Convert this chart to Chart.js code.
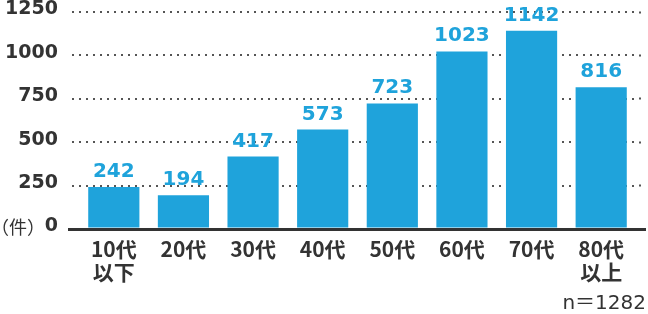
<!DOCTYPE html>
<html>
<head>
<meta charset="utf-8">
<script src="https://cdn.jsdelivr.net/npm/chart.js@4"></script>
<style>
  html, body { margin: 0; padding: 0; background: #fff; }
  #wrap { width: 648px; height: 314px; position: relative; }
</style>
</head>
<body>
<div id="wrap"><canvas id="c" width="648" height="314"></canvas></div>
<script>
// ---- data ----
const categories = [['10代', '以下'], '20代', '30代', '40代', '50代', '60代', '70代', ['80代', '以上']];
const values = [242, 194, 417, 573, 723, 1023, 1142, 816];
const yTicks = [0, 250, 500, 750, 1000, 1250];
const yUnit = '（件）';
const sampleNote = 'n＝1282';

// ---- styles ----
const BLUE = '#1FA3DB';
const DARK = '#333333';
const DOT = '#555555';
const NUM_FONT = '"DejaVu Sans", "Noto Sans CJK JP", sans-serif';
const JP_FONT = '"Noto Sans CJK JP", "DejaVu Sans", sans-serif';

const isZero = ctx => ctx.tick && ctx.tick.value === 0;
const gridColor = ctx => isZero(ctx) ? DARK : DOT;
const gridWidth = ctx => isZero(ctx) ? 3 : 2;
const gridDash = ctx => isZero(ctx) ? [] : [2, 5];

const valueLabels = {
  id: 'valueLabels',
  afterDatasetsDraw(chart) {
    const ctx = chart.ctx;
    const meta = chart.getDatasetMeta(0);
    ctx.save();
    ctx.fillStyle = BLUE;
    ctx.font = 'bold 20px ' + NUM_FONT;
    ctx.textAlign = 'center';
    ctx.textBaseline = 'alphabetic';
    meta.data.forEach((bar, i) => {
      ctx.fillText(String(values[i]), bar.x, bar.y - 10);
    });
    ctx.restore();
  }
};

const unitLabel = {
  id: 'unitLabel',
  afterDraw(chart) {
    const ys = chart.scales.y;
    const ctx = chart.ctx;
    ctx.save();
    ctx.fillStyle = DARK;
    ctx.font = '18px ' + JP_FONT;
    ctx.textAlign = 'right';
    ctx.textBaseline = 'middle';
    ctx.fillText(yUnit, 45, ys.getPixelForValue(0) - 2);
    ctx.restore();
  }
};

new Chart(document.getElementById('c'), {
  type: 'bar',
  data: {
    labels: categories,
    datasets: [{
      data: values,
      backgroundColor: BLUE,
      borderWidth: 0,
      barPercentage: 0.735,
      categoryPercentage: 1.0
    }]
  },
  options: {
    responsive: false,
    animation: false,
    events: [],
    layout: { padding: { left: 0, right: 2, top: 12, bottom: 0 } },
    plugins: {
      legend: { display: false },
      tooltip: { enabled: false },
      title: {
        display: true,
        text: sampleNote,
        position: 'bottom',
        align: 'end',
        color: DARK,
        padding: { top: 0, bottom: 0 },
        font: { family: NUM_FONT, size: 20, weight: 'normal', lineHeight: 1 }
      }
    },
    scales: {
      x: {
        z: 1,
        grid: { display: false, drawTicks: false },
        border: { display: true, color: DARK, width: 3 },
        ticks: {
          color: DARK,
          padding: 9,
          maxRotation: 0,
          autoSkip: false,
          font: { family: JP_FONT, size: 21, weight: 'bold', lineHeight: 1.08 }
        },
        afterFit(s) { s.height = 65; s.paddingLeft = 0; s.paddingRight = 0; }
      },
      y: {
        min: 0,
        max: 1250,
        afterBuildTicks(s) { s.ticks = yTicks.map(v => ({ value: v })); },
        border: { display: false, dash: gridDash },
        grid: {
          color: gridColor,
          lineWidth: gridWidth,
          tickColor: gridColor,
          tickWidth: gridWidth,
          tickBorderDash: gridDash,
          tickBorderDashOffset: 3,
          tickLength: 11,
          drawTicks: true
        },
        ticks: {
          color: DARK,
          padding: 10,
          labelOffset: -2.5,
          font: { family: NUM_FONT, size: 19, weight: 'bold' },
          callback: v => String(v)
        },
        afterFit(s) { s.width = 79; s.paddingTop = 0; s.paddingBottom = 0; }
      },
      yR: {
        position: 'right',
        min: 0,
        max: 1250,
        afterBuildTicks(s) { s.ticks = yTicks.map(v => ({ value: v })); },
        border: { display: false },
        grid: {
          drawOnChartArea: false,
          tickColor: gridColor,
          tickWidth: gridWidth,
          tickBorderDash: gridDash,
          tickBorderDashOffset: 4,
          tickLength: 10,
          drawTicks: true
        },
        ticks: { display: false },
        afterFit(s) { s.width = 10; s.paddingTop = 0; s.paddingBottom = 0; }
      }
    }
  },
  plugins: [valueLabels, unitLabel]
});
</script>
</body>
</html>
